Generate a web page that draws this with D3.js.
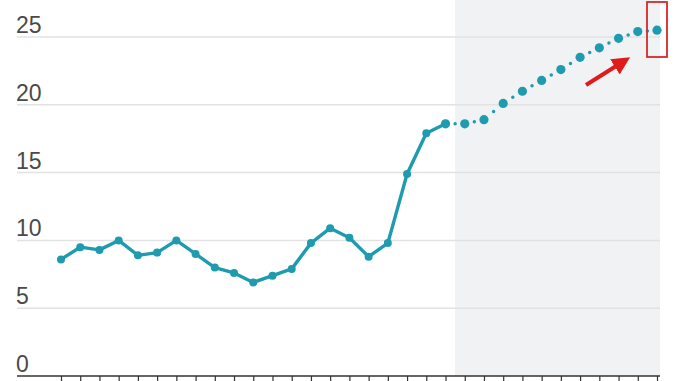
<!DOCTYPE html>
<html>
<head>
<meta charset="utf-8">
<script src="https://cdn.jsdelivr.net/npm/d3@7"></script>
<style>
  html, body { margin: 0; padding: 0; background: #fff; }
  svg { display: block; }
  .tick-label { font-family: "Liberation Sans Narrow", "Arial Narrow", "Liberation Sans", sans-serif; font-size: 23px; fill: #4a4a4a; }
</style>
</head>
<body>
<svg id="chart" width="678" height="381"></svg>
<script>
// actual values, then the projected tail (dotted, on grey band)
const actual = [8.6, 9.5, 9.3, 10.0, 8.9, 9.1, 10.0, 9.0, 8.0, 7.6, 6.9, 7.4, 7.9,
                9.8, 10.9, 10.2, 8.8, 9.8, 14.9, 17.9, 18.6];
const projected = [18.6, 18.9, 20.1, 21.0, 21.8, 22.6, 23.5, 24.2, 24.9, 25.4, 25.5];
const yTicks = [0, 5, 10, 15, 20, 25];

const teal = '#1f9bb0';
const red = '#e01b1b';

const svg = d3.select('#chart');
const n = actual.length + projected.length;

const x = d3.scaleLinear().domain([0, n - 1]).range([61, 657]);
const y = d3.scaleLinear().domain([0, 25]).range([376, 37]);

const allPts = actual.map((v, i) => ({ i, v }))
    .concat(projected.map((v, j) => ({ i: actual.length + j, v })));
const actPts = allPts.slice(0, actual.length);
const projPts = allPts.slice(actual.length - 1); // start dotted from last actual point

// forecast band
const bandX0 = (x(actual.length - 1) + x(actual.length)) / 2;
svg.append('rect')
    .attr('x', bandX0).attr('y', 0)
    .attr('width', 660 - bandX0).attr('height', y(0))
    .attr('fill', '#f1f2f4');

// gridlines + labels
const grid = svg.append('g');
grid.selectAll('line')
    .data(yTicks.filter(d => d > 0))
    .join('line')
    .attr('x1', 17).attr('x2', 660)
    .attr('y1', d => y(d)).attr('y2', d => y(d))
    .attr('stroke', '#e2e2e2').attr('stroke-width', 1.5);
grid.selectAll('text')
    .data(yTicks)
    .join('text')
    .attr('class', 'tick-label')
    .attr('x', 16)
    .attr('y', d => y(d) - 4)
    .text(d => d);

// bottom axis with ticks at each period
const axis = d3.axisBottom(x)
    .tickValues(d3.range(n))
    .tickSize(5)
    .tickFormat('');
const ax = svg.append('g').attr('transform', `translate(0,${y(0)})`).call(axis);
ax.select('.domain').remove();
ax.selectAll('.tick line').attr('stroke', '#333').attr('stroke-width', 1.2);
ax.append('line')
    .attr('x1', 17).attr('x2', 660)
    .attr('stroke', '#333').attr('stroke-width', 1.5);

// solid line for actual values
const line = d3.line().x(d => x(d.i)).y(d => y(d.v));
svg.append('path')
    .datum(actPts)
    .attr('d', line)
    .attr('fill', 'none')
    .attr('stroke', teal)
    .attr('stroke-width', 3.4)
    .attr('stroke-linejoin', 'round');

// dotted segments for the projection: one dot midway between markers
const segs = d3.pairs(projPts);
svg.append('g').selectAll('line')
    .data(segs)
    .join('line')
    .attr('x1', d => x(d[0].i)).attr('y1', d => y(d[0].v))
    .attr('x2', d => x(d[1].i)).attr('y2', d => y(d[1].v))
    .attr('pathLength', 2)
    .attr('stroke', teal)
    .attr('stroke-width', 3.5)
    .attr('stroke-linecap', 'round')
    .attr('stroke-dasharray', '0 1');

// markers
svg.append('g').selectAll('circle')
    .data(actPts)
    .join('circle')
    .attr('cx', d => x(d.i)).attr('cy', d => y(d.v))
    .attr('r', 4)
    .attr('fill', teal);
svg.append('g').selectAll('circle')
    .data(projPts.slice(1).concat([actPts[actPts.length - 1]]))
    .join('circle')
    .attr('cx', d => x(d.i)).attr('cy', d => y(d.v))
    .attr('r', 4.6)
    .attr('fill', teal);

// red highlight box around the last point
const last = allPts[allPts.length - 1];
svg.append('rect')
    .attr('x', x(last.i) - 10).attr('y', 2)
    .attr('width', 20).attr('height', 55)
    .attr('fill', 'none')
    .attr('stroke', '#d42a2a')
    .attr('stroke-width', 1.8);

// red arrow pointing at it
svg.append('defs').append('marker')
    .attr('id', 'head')
    .attr('viewBox', '0 0 10 10')
    .attr('refX', 4).attr('refY', 5)
    .attr('markerWidth', 4.5).attr('markerHeight', 4.5)
    .attr('markerUnits', 'strokeWidth')
    .attr('orient', 'auto')
    .append('path')
    .attr('d', 'M0,0 L10,5 L0,10 Z')
    .attr('fill', red);
svg.append('line')
    .attr('x1', 586).attr('y1', 85)
    .attr('x2', 621).attr('y2', 63)
    .attr('stroke', red)
    .attr('stroke-width', 4)
    .attr('marker-end', 'url(#head)');
</script>
</body>
</html>
